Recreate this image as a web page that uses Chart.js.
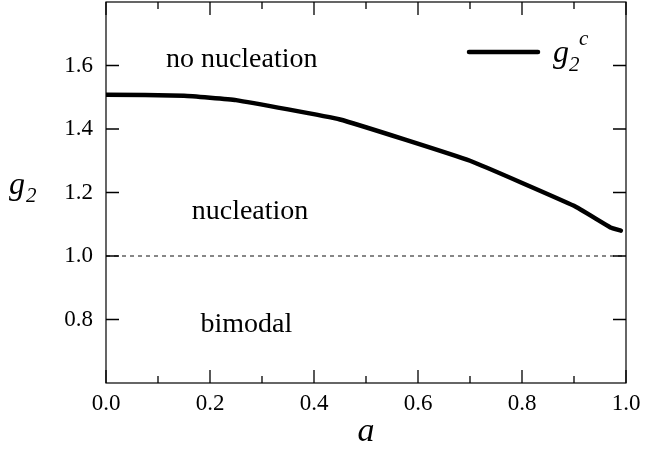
<!DOCTYPE html>
<html>
<head>
<meta charset="utf-8">
<script src="https://cdn.jsdelivr.net/npm/chart.js@4.4.1/dist/chart.umd.min.js"></script>
<style>
html,body{margin:0;padding:0;background:#fff;}
#wrap{width:658px;height:449px;position:relative;}
</style>
</head>
<body>
<div id="wrap"><canvas id="c" width="658" height="449"></canvas></div>
<script>
// ---- data ----
const aValues   = [0.0, 0.15, 0.25, 0.45, 0.70, 0.90, 0.97, 0.99];
const g2cValues = [1.508, 1.505, 1.491, 1.430, 1.300, 1.158, 1.090, 1.080];
const boundaryA = [0.0, 1.0];
const boundaryG = [1.0, 1.0];
const xMajorTicks = [0.0, 0.2, 0.4, 0.6, 0.8, 1.0];
const xMinorTicks = [0.1, 0.3, 0.5, 0.7, 0.9];
const yMajorTicks = [0.8, 1.0, 1.2, 1.4, 1.6];
const regionLabels = ["no nucleation", "nucleation", "bimodal"];
const regionA = [0.261, 0.277, 0.270];
const regionG = [1.62, 1.14, 0.785];

const SERIF = '"Liberation Serif", "DejaVu Serif", serif';

const curve = aValues.map((a, i) => ({x: a, y: g2cValues[i]}));
const dashed = boundaryA.map((a, i) => ({x: a, y: boundaryG[i]}));

const framePlugin = {
  id: 'frame',
  afterDatasetsDraw(chart) {
    const ctx = chart.ctx, xs = chart.scales.x, ys = chart.scales.y, ca = chart.chartArea;
    ctx.save();
    ctx.strokeStyle = '#000';
    ctx.lineWidth = 1.2;
    ctx.strokeRect(ca.left, ca.top, ca.right - ca.left, ca.bottom - ca.top);
    ctx.lineWidth = 1.3;
    ctx.beginPath();
    xMajorTicks.forEach(v => {
      const px = xs.getPixelForValue(v);
      ctx.moveTo(px, ca.bottom); ctx.lineTo(px, ca.bottom - 13);
      ctx.moveTo(px, ca.top); ctx.lineTo(px, ca.top + 13);
    });
    xMinorTicks.forEach(v => {
      const px = xs.getPixelForValue(v);
      ctx.moveTo(px, ca.bottom); ctx.lineTo(px, ca.bottom - 7);
      ctx.moveTo(px, ca.top); ctx.lineTo(px, ca.top + 7);
    });
    yMajorTicks.forEach(v => {
      const py = ys.getPixelForValue(v);
      ctx.moveTo(ca.left, py); ctx.lineTo(ca.left + 13, py);
      ctx.moveTo(ca.right, py); ctx.lineTo(ca.right - 13, py);
    });
    ctx.stroke();

    // region labels
    ctx.fillStyle = '#000';
    ctx.font = '28px ' + SERIF;
    ctx.textAlign = 'center';
    ctx.textBaseline = 'middle';
    regionLabels.forEach((t, i) => {
      ctx.fillText(t, xs.getPixelForValue(regionA[i]), ys.getPixelForValue(regionG[i]));
    });

    // legend
    const lx0 = 469, lx1 = 538, ly = 52;
    ctx.lineWidth = 4.5;
    ctx.lineCap = 'round';
    ctx.beginPath(); ctx.moveTo(lx0, ly); ctx.lineTo(lx1, ly); ctx.stroke();
    ctx.textAlign = 'left';
    ctx.textBaseline = 'alphabetic';
    ctx.font = 'italic 32px ' + SERIF;
    ctx.fillText('g', 553, 62);
    ctx.font = 'italic 21px ' + SERIF;
    ctx.fillText('2', 569, 71);
    ctx.fillText('c', 579, 45);

    // axis titles
    ctx.font = 'italic 32px ' + SERIF;
    ctx.fillText('g', 9, 194);
    ctx.font = 'italic 21px ' + SERIF;
    ctx.fillText('2', 26, 202);
    ctx.font = 'italic 34px ' + SERIF;
    ctx.textAlign = 'center';
    ctx.fillText('a', 366, 441);
    ctx.restore();
  }
};

new Chart(document.getElementById('c'), {
  type: 'line',
  data: {
    datasets: [
      {label: 'g2c', data: curve, borderColor: '#000', borderWidth: 4.5, pointRadius: 0,
       tension: 0.1, borderCapStyle: 'round', borderJoinStyle: 'round', fill: false},
      {label: 'boundary', data: dashed, borderColor: '#111', borderWidth: 1, borderDash: [4, 4],
       pointRadius: 0, fill: false}
    ]
  },
  options: {
    responsive: false,
    animation: false,
    layout: {padding: {left: 0, right: 32, top: 2, bottom: 0}},
    plugins: {legend: {display: false}, tooltip: {enabled: false}},
    scales: {
      x: {
        type: 'linear', min: 0, max: 1,
        afterBuildTicks: s => { s.ticks = xMajorTicks.map(v => ({value: v})); },
        ticks: {color: '#000', font: {family: SERIF, size: 23}, padding: 7,
                callback: v => Number(v).toFixed(1), maxRotation: 0, autoSkip: false},
        grid: {drawOnChartArea: false, drawTicks: false},
        border: {display: false},
        afterFit: s => { s.height = 66; s.paddingLeft = 0; s.paddingRight = 0; }
      },
      y: {
        type: 'linear', min: 0.6, max: 1.8,
        afterBuildTicks: s => { s.ticks = yMajorTicks.map(v => ({value: v})); },
        ticks: {color: '#000', font: {family: SERIF, size: 23}, padding: 13,
                callback: v => Number(v).toFixed(1), autoSkip: false},
        grid: {drawOnChartArea: false, drawTicks: false},
        border: {display: false},
        afterFit: s => { s.width = 106; s.paddingTop = 0; s.paddingBottom = 0; }
      }
    }
  },
  plugins: [framePlugin]
});
</script>
</body>
</html>
